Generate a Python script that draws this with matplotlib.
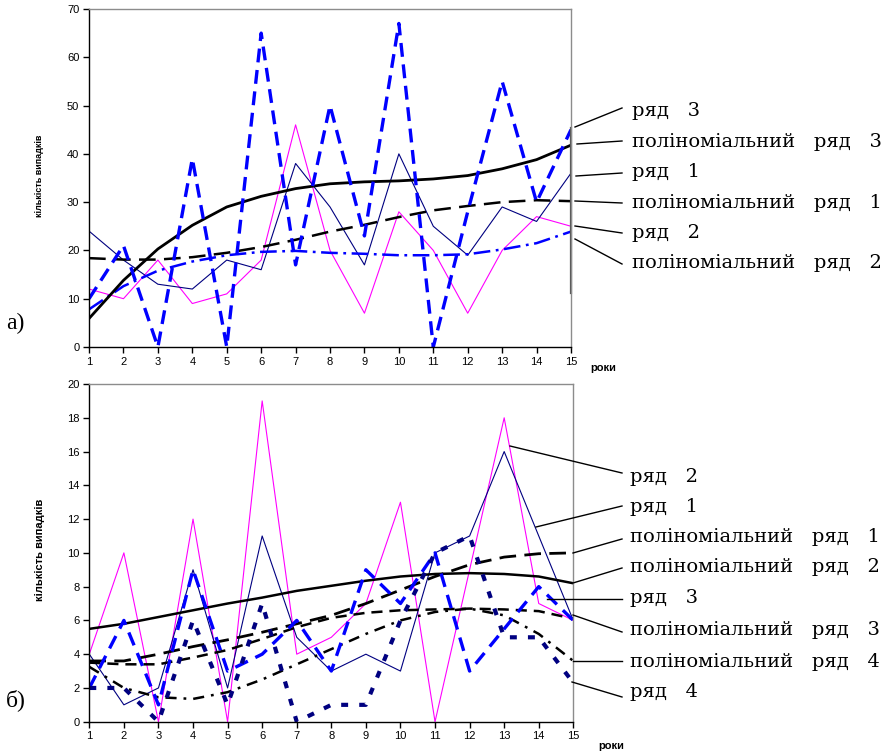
import matplotlib
matplotlib.use("Agg")
import matplotlib.pyplot as plt
from matplotlib.lines import Line2D

plt.rcParams['lines.scale_dashes'] = False
plt.rcParams['font.family'] = ['Liberation Sans', 'DejaVu Sans']

roky = list(range(1, 16))

# а) три ряди та їх поліноміальні тренди
a_ryad1 = [24, 18, 13, 12, 18, 16, 38, 29, 17, 40, 25, 19, 29, 26, 36]
a_ryad2 = [12, 10, 18, 9, 11, 18, 46, 20, 7, 28, 20, 7, 20, 27, 25]
a_ryad3 = [10, 21, 0, 39, 0, 65, 17, 50, 23, 67, 0, 28, 55, 30, 45]
a_poly1 = [18.4, 18.1, 18.1, 18.6, 19.5, 20.7, 22.2, 23.9, 25.3, 26.9, 28.3, 29.2, 30.0, 30.4, 30.2]
a_poly2 = [7.8, 12.6, 15.8, 17.7, 19.0, 19.7, 19.9, 19.5, 19.3, 19.0, 19.0, 19.2, 20.2, 21.5, 23.9]
a_poly3 = [5.9, 13.8, 20.3, 25.2, 29.0, 31.2, 32.8, 33.8, 34.2, 34.4, 34.8, 35.5, 36.9, 38.8, 41.8]

# б) чотири ряди та їх поліноміальні тренди
b_ryad1 = [4, 1, 2, 9, 2, 11, 5, 3, 4, 3, 10, 11, 16, 11, 6]
b_ryad2 = [4, 10, 0, 12, 0, 19, 4, 5, 7, 13, 0, 9, 18, 7, 6]
b_ryad3 = [2, 6, 1, 9, 3, 4, 6, 3, 9, 7, 10, 3, 5.5, 8, 6]
b_ryad4 = [2, 2, 0, 6, 1, 7, 0, 1, 1, 6, 10, 11, 5, 5, 2.3]
b_poly1 = [3.6, 3.6, 4.0, 4.45, 4.85, 5.3, 5.8, 6.3, 7.0, 7.8, 8.6, 9.3, 9.75, 9.95, 10.0]
b_poly2 = [5.5, 5.8, 6.2, 6.6, 7.0, 7.35, 7.75, 8.05, 8.35, 8.6, 8.75, 8.8, 8.75, 8.6, 8.2]
b_poly3 = [3.5, 3.4, 3.4, 3.8, 4.25, 4.9, 5.6, 6.15, 6.45, 6.6, 6.65, 6.7, 6.65, 6.55, 6.1]
b_poly4 = [3.25, 2.0, 1.45, 1.35, 1.75, 2.5, 3.4, 4.3, 5.2, 6.0, 6.5, 6.7, 6.3, 5.2, 3.6]

a_labels = ["ряд   3", "поліноміальний   ряд   3", "ряд   1",
            "поліноміальний   ряд   1", "ряд   2", "поліноміальний   ряд   2"]
b_labels = ["ряд   2", "ряд   1", "поліноміальний   ряд   1", "поліноміальний   ряд   2",
            "ряд   3", "поліноміальний   ряд   3", "поліноміальний   ряд   4", "ряд   4"]

NAVY = "#000080"
BLUE = "#0000ff"
MAGENTA = "#ff00ff"

fig = plt.figure(figsize=(8.94, 7.54), dpi=100)


def setup_axes(ax, ymax, ystep):
    ax.set_xlim(1, 15)
    ax.set_ylim(0, ymax)
    ax.set_xticks(roky)
    ax.set_yticks(range(0, ymax + 1, ystep))
    ax.tick_params(axis='both', direction='out', length=4, width=1, labelsize=8, pad=3)
    for s in ['left', 'bottom']:
        ax.spines[s].set_color('black')
        ax.spines[s].set_linewidth(1)
    for s in ['top', 'right']:
        ax.spines[s].set_color('#8c8c8c')
        ax.spines[s].set_linewidth(1)


# ---- верхній графік
ax1 = fig.add_axes([0.0996, 0.5398, 0.5391, 0.4483])
setup_axes(ax1, 70, 10)
ax1.plot(roky, a_ryad2, color=MAGENTA, lw=0.8)
ax1.plot(roky, a_ryad1, color=NAVY, lw=0.8)
ax1.plot(roky, a_poly2, color=BLUE, lw=1.8, dashes=(12, 4, 2, 4))
ax1.plot(roky, a_poly1, color='black', lw=1.8, dashes=(12, 6))
ax1.plot(roky, a_poly3, color='black', lw=2.0)
ax1.plot(roky, a_ryad3, color=BLUE, lw=2.4, dashes=(10, 5.5))
ax1.plot([15, 15], [11.2, 45.3], color='#505050', lw=1.6, clip_on=False)

# ---- нижній графік
ax2 = fig.add_axes([0.0999, 0.0428, 0.5414, 0.4479])
setup_axes(ax2, 20, 2)
ax2.plot(roky, b_ryad2, color=MAGENTA, lw=0.8)
ax2.plot(roky, b_ryad1, color=NAVY, lw=0.8)
ax2.plot(roky, b_poly2, color='black', lw=1.8)
ax2.plot(roky, b_poly1, color='black', lw=2.0, dashes=(12, 6))
ax2.plot(roky, b_poly3, color='black', lw=1.8, dashes=(8, 5))
ax2.plot(roky, b_poly4, color='black', lw=1.8, dashes=(8, 5, 2, 5))
ax2.plot(roky, b_ryad3, color=BLUE, lw=2.4, dashes=(10, 6))
ax2.plot(roky, b_ryad4, color=NAVY, lw=3.0, dashes=(5, 8))

# ---- підписи, виноски (у пікселях фігури)
ov = fig.add_axes([0, 0, 1, 1], facecolor='none')
ov.set_xlim(0, 894)
ov.set_ylim(754, 0)
ov.axis('off')

a_lines = [((575, 127), (622, 108)), ((577, 144), (622, 141)), ((576, 176), (622, 173)),
           ((575, 201), (622, 203)), ((575, 226), (622, 233)), ((575, 239), (622, 264))]
a_base = [116, 147, 177, 208, 238, 268]
for (p0, p1), lab, yb in zip(a_lines, a_labels, a_base):
    ov.add_line(Line2D([p0[0], p1[0]], [p0[1], p1[1]], color='black', lw=1))
    ov.text(632, yb, lab, family='DejaVu Serif', fontsize=14, va='baseline', ha='left')

b_lines = [((510, 446), (622, 473)), ((536, 527), (622, 506)), ((573, 553), (622, 539)),
           ((573, 583), (622, 568)), ((547, 599), (622, 599)), ((573, 615), (622, 632)),
           ((573, 661), (622, 661)), ((572, 682), (622, 697))]
b_base = [482, 512, 542, 572, 603, 635, 667, 697]
for (p0, p1), lab, yb in zip(b_lines, b_labels, b_base):
    ov.add_line(Line2D([p0[0], p1[0]], [p0[1], p1[1]], color='black', lw=1))
    ov.text(630, yb, lab, family='DejaVu Serif', fontsize=14, va='baseline', ha='left')

ov.text(6, 323, "а)", family='Liberation Serif', fontsize=17, va='center', ha='left')
ov.text(6, 700, "б)", family='Liberation Serif', fontsize=17, va='center', ha='left')
ov.text(40, 176, "кількість випадків", fontsize=6.5, fontweight='bold',
        rotation=90, va='center', ha='center')
ov.text(40, 550, "кількість випадків", fontsize=8, fontweight='bold',
        rotation=90, va='center', ha='center')
ov.text(590, 368, "роки", fontsize=8, fontweight='bold', va='center', ha='left')
ov.text(598, 746, "роки", fontsize=8, fontweight='bold', va='center', ha='left')

fig.savefig("out.png", dpi=100)
